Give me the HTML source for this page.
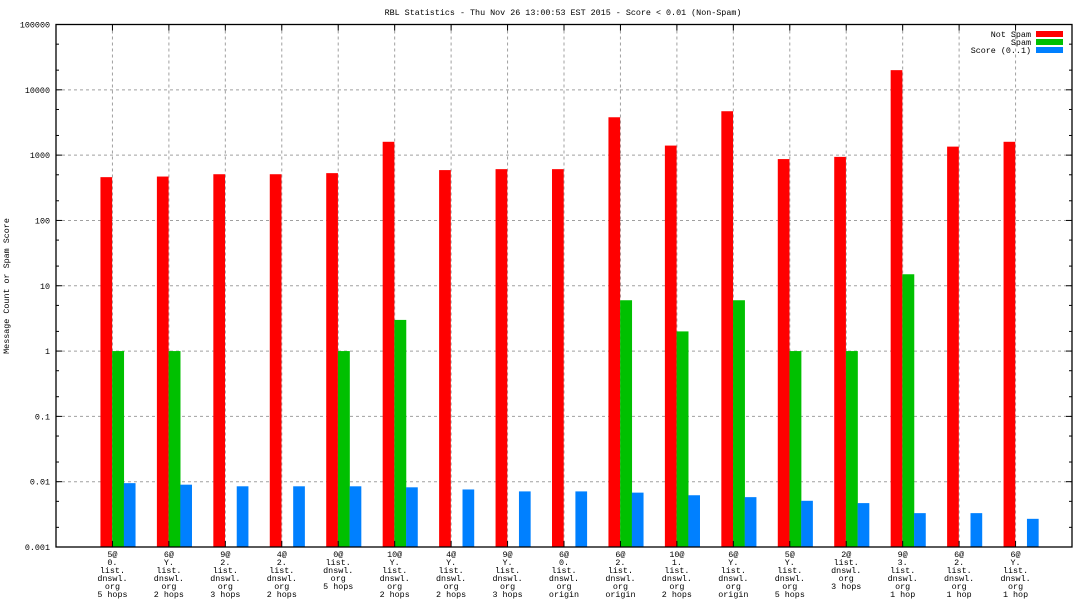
<!DOCTYPE html>
<html><head><meta charset="utf-8"><style>
html,body{margin:0;padding:0;background:#fff;}
svg{display:block;font-family:"Liberation Mono",monospace;}
text{font-size:8.4px;fill:#000;}
</style></head><body>
<svg id="chart" width="1088" height="612" viewBox="0 0 1088 612" xmlns="http://www.w3.org/2000/svg">
<text x="563" y="15" text-anchor="middle">RBL Statistics - Thu Nov 26 13:00:53 EST 2015 - Score &lt; 0.01 (Non-Spam)</text>
<text transform="translate(9,286) rotate(-90)" text-anchor="middle">Message Count or Spam Score</text>
<g id="grid"></g><g id="bars"></g><g id="axes"></g>
<g>
<text x="1031" y="37" text-anchor="end">Not Spam</text><rect x="1036" y="31" width="27" height="6" fill="#ff0000"/>
<text x="1031" y="45" text-anchor="end">Spam</text><rect x="1036" y="39" width="27" height="6" fill="#00c000"/>
<text x="1031" y="53" text-anchor="end">Score (0..1)</text><rect x="1036" y="47" width="27" height="6" fill="#0080ff"/>
</g>
</svg>
<script>
const categories=[["5@","0.","list.","dnswl.","org","5 hops"],["6@","Y.","list.","dnswl.","org","2 hops"],["9@","2.","list.","dnswl.","org","3 hops"],["4@","2.","list.","dnswl.","org","2 hops"],["0@","list.","dnswl.","org","5 hops"],["10@","Y.","list.","dnswl.","org","2 hops"],["4@","Y.","list.","dnswl.","org","2 hops"],["9@","Y.","list.","dnswl.","org","3 hops"],["6@","0.","list.","dnswl.","org","origin"],["6@","2.","list.","dnswl.","org","origin"],["10@","1.","list.","dnswl.","org","2 hops"],["6@","Y.","list.","dnswl.","org","origin"],["5@","Y.","list.","dnswl.","org","5 hops"],["2@","list.","dnswl.","org","3 hops"],["9@","3.","list.","dnswl.","org","1 hop"],["6@","2.","list.","dnswl.","org","1 hop"],["6@","Y.","list.","dnswl.","org","1 hop"]];
const notSpam=[460,470,510,510,530,1600,590,610,610,3800,1400,4700,870,940,20000,1350,1600];
const spam=[1,1,null,null,1,3,null,null,null,6,2,6,1,1,15,null,null];
const score=[0.0095,0.009,0.0085,0.0085,0.0085,0.0082,0.0076,0.0071,0.0071,0.0068,0.0062,0.0058,0.0051,0.0047,0.0033,0.0033,0.0027];
const yTicks=["0.001","0.01","0.1","1","10","100","1000","10000","100000"];
const NS="http://www.w3.org/2000/svg";
const L=56,R=1072,T=24.5,B=547;
const n=categories.length, step=(R-L)/(n+1);
function xc(i){return L+(i+1)*step;}
function y(v){return B-(Math.log10(v)+3)*(B-T)/8;}
function mk(tag,attrs,parent){const e=document.createElementNS(NS,tag);for(const k in attrs)e.setAttribute(k,attrs[k]);parent.appendChild(e);return e;}
const grid=document.getElementById('grid'),bars=document.getElementById('bars'),axes=document.getElementById('axes');
yTicks.forEach((t,k)=>{const v=parseFloat(t),yy=y(v);
 if(k>0&&k<yTicks.length-1){const g=mk('line',{x1:L,x2:R,y1:yy,y2:yy,stroke:'#a0a0a0','stroke-dasharray':'3,3'},grid);
 
 }
 const tl=mk('text',{x:L-6,y:yy+3,'text-anchor':'end'},axes);tl.textContent=t;
 
 
 mk('line',{x1:L,x2:L+6,y1:yy,y2:yy,stroke:'#000'},axes);mk('line',{x1:R,x2:R-6,y1:yy,y2:yy,stroke:'#000'},axes);
 if(k<yTicks.length-1)[2,5].forEach(m=>{const ym=y(v*m);mk('line',{x1:L,x2:L+3,y1:ym,y2:ym,stroke:'#000'},axes);mk('line',{x1:R,x2:R-3,y1:ym,y2:ym,stroke:'#000'},axes);});
});
categories.forEach((c,i)=>{const x=xc(i);
 const g=mk('line',{x1:x,x2:x,y1:T,y2:B,stroke:'#a0a0a0','stroke-dasharray':'3,3'},grid);
 
 
 mk('line',{x1:x,x2:x,y1:B,y2:B-6,stroke:'#000'},axes);mk('line',{x1:x,x2:x,y1:T,y2:T+6,stroke:'#000'},axes);
 const tx=mk('text',{x:x,'text-anchor':'middle'},axes);
 
 
 c.forEach((line,j)=>{const ts=mk('tspan',{x:x,y:B+10+j*8},tx);ts.textContent=line;});
 const r=mk('rect',{x:x-12,width:11.7,y:y(notSpam[i]),height:B-y(notSpam[i]),fill:'#ff0000'},bars);
 
 
 if(spam[i]!=null){const s=mk('rect',{x:x-0.3,width:11.9,y:y(spam[i]),height:B-y(spam[i]),fill:'#00c000'},bars);
 
 }
 const b=mk('rect',{x:x+11.4,width:11.7,y:y(score[i]),height:B-y(score[i]),fill:'#0080ff'},bars);
 
 
});
const f=mk('rect',{x:L,y:T,width:R-L,height:B-T,fill:'none',stroke:'#000','stroke-width':1.3},axes);


</script>
</body></html>
